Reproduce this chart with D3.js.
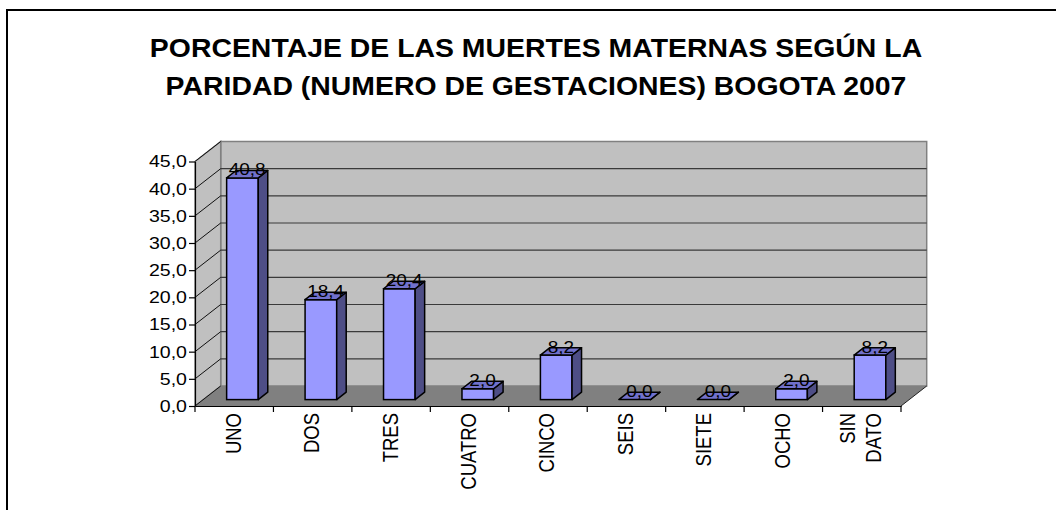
<!DOCTYPE html>
<html>
<head>
<meta charset="utf-8">
<script src="https://cdn.jsdelivr.net/npm/d3@7"></script>
<style>
body{margin:0;background:#fff;}
svg{display:block;font-family:"Liberation Sans",Arial,sans-serif;}
</style>
</head>
<body>
<div id="chart"></div>
<script>
// chart data
var titleLines = ["PORCENTAJE DE LAS MUERTES MATERNAS SEGÚN LA", "PARIDAD (NUMERO DE GESTACIONES) BOGOTA 2007"]
var categories = ["UNO", "DOS", "TRES", "CUATRO", "CINCO", "SEIS", "SIETE", "OCHO", "SIN DATO"]
var values = [40.8, 18.4, 20.4, 2.0, 8.2, 0.0, 0.0, 2.0, 8.2]
var yTicks = [0, 5, 10, 15, 20, 25, 30, 35, 40, 45]

// layout (the original picture is stretched a bit sideways, so text gets a scaleX)
var width = 1056, height = 510
var plotLeft = 195, plotRight = 901
var floorY = 406, topY = 161.5
var depthX = 25.7, depthY = -20   // wall depth offset
var barFront = 0.32, barDepth = 0.37  // bar position inside the depth, as a fraction
var stretch = 1.15

var frontColor = "#9999ff", topColor = "#7171cc", sideColor = "#4e4e86"

var fmt = function(d){ return d3.format(".1f")(d).replace(".", ",") }

var svg = d3.select("#chart").append("svg")
  .attr("width", width)
  .attr("height", height)

// outer frame (runs off the right and bottom of the picture)
svg.append("rect")
  .attr("x", 7).attr("y", 10)
  .attr("width", 1100).attr("height", 600)
  .style("fill", "#fff")
  .style("stroke", "#000")
  .style("stroke-width", 2)

// title
svg.selectAll("text.title")
  .data(titleLines)
  .enter().append("text")
  .attr("class", "title")
  .attr("transform", function(d, i){ return `translate(536 ${56.7 + i*38.3}) scale(1.137 1)` })
  .attr("text-anchor", "middle")
  .style("font-size", "25px")
  .style("font-weight", "bold")
  .text(function(d){ return d })

var x = d3.scaleBand().domain(categories).range([plotLeft, plotRight])
var y = d3.scaleLinear().domain([0, 45]).range([floorY, topY])

var backLeft = plotLeft + depthX, backRight = plotRight + depthX

// floor
svg.append("polygon")
  .attr("points", `${plotLeft},${floorY} ${plotRight},${floorY} ${backRight},${floorY+depthY} ${backLeft},${floorY+depthY}`)
  .style("fill", "#808080")

// back wall
svg.append("rect")
  .attr("x", backLeft)
  .attr("y", y(45) + depthY)
  .attr("width", backRight - backLeft)
  .attr("height", y(0) - y(45))
  .style("fill", "#c0c0c0")
  .style("stroke", "#808080")
  .style("stroke-width", 1.5)

// side wall
svg.append("polygon")
  .attr("points", `${plotLeft},${y(0)} ${plotLeft},${y(45)} ${backLeft},${y(45)+depthY} ${backLeft},${y(0)+depthY}`)
  .style("fill", "#c0c0c0")
  .style("stroke", "#808080")
  .style("stroke-width", 1.5)

// gridlines: back wall and diagonals on the side wall
svg.selectAll("line.grid")
  .data(yTicks.filter(function(t){ return t > 0 && t < 45 }))
  .enter().append("line")
  .attr("class", "grid")
  .attr("x1", backLeft).attr("x2", backRight)
  .attr("y1", function(d){ return y(d) + depthY })
  .attr("y2", function(d){ return y(d) + depthY })
  .style("stroke", "#3a3a3a")
  .style("stroke-width", 1.2)

svg.selectAll("line.diag")
  .data(yTicks)
  .enter().append("line")
  .attr("class", "diag")
  .attr("x1", plotLeft).attr("x2", backLeft)
  .attr("y1", function(d){ return y(d) })
  .attr("y2", function(d){ return y(d) + depthY })
  .style("stroke", "#111")
  .style("stroke-width", 1)

// floor right edge
svg.append("line")
  .attr("x1", plotRight).attr("y1", floorY)
  .attr("x2", backRight).attr("y2", floorY + depthY)
  .style("stroke", "#222")
  .style("stroke-width", 1)

// y axis
var yAxis = svg.append("g")
  .attr("transform", `translate(${plotLeft},0)`)
  .call(d3.axisLeft(y).tickValues(yTicks).tickSize(6).tickSizeOuter(0).tickFormat(fmt))
yAxis.selectAll("text")
  .attr("x", -7)
  .attr("transform", `scale(${stretch} 1)`)
  .style("font-size", "17px")
  .style("font-family", '"Liberation Sans",Arial,sans-serif')
  .style("fill", "#000")
yAxis.selectAll("line, path").style("stroke", "#000").style("stroke-width", 1.2)

// x axis: line plus ticks at the category boundaries
var xAxis = svg.append("g")
  .attr("transform", `translate(0,${floorY})`)
  .call(d3.axisBottom(x).tickSize(0).tickSizeOuter(0).tickFormat(""))
xAxis.select("path").style("stroke", "#000").style("stroke-width", 1.2)

xAxis.selectAll("line.bound")
  .data(d3.range(categories.length + 1))
  .enter().append("line")
  .attr("class", "bound")
  .attr("x1", function(i){ return plotLeft + i*x.step() })
  .attr("x2", function(i){ return plotLeft + i*x.step() })
  .attr("y1", 0).attr("y2", 6)
  .style("stroke", "#000")
  .style("stroke-width", 1.2)

// category labels, rotated
var catLabels = svg.selectAll("text.cat")
  .data(categories)
  .enter().append("text")
  .attr("class", "cat")
  .attr("transform", function(d){ return `translate(${x(d) + x.bandwidth()/2 - 1} 413) scale(${stretch} 1) rotate(-90)` })
  .attr("text-anchor", "end")
  .style("font-size", "18.5px")

catLabels.each(function(d){
  var lines = d.split(" ")
  var first = 0.35 - (lines.length - 1)*0.6
  d3.select(this).selectAll("tspan")
    .data(lines)
    .enter().append("tspan")
    .attr("x", 0)
    .attr("dy", function(l, i){ return i == 0 ? `${first}em` : "1.2em" })
    .text(function(l){ return l })
})

// bars
var bw = x.bandwidth()*0.403
var bdx = depthX*barDepth, bdy = depthY*barDepth
var bars = categories.map(function(c, i){
  var x0 = x(c) + (x.bandwidth() - bw)/2 + depthX*barFront
  var yb = y(0) + depthY*barFront
  var yt = y(values[i]) + depthY*barFront
  return {x0: x0, yb: yb, yt: yt, v: values[i]}
})

var barG = svg.selectAll("g.bar")
  .data(bars)
  .enter().append("g")
  .attr("class", "bar")

barG.append("rect")
  .attr("x", function(d){ return d.x0 })
  .attr("y", function(d){ return d.yt })
  .attr("width", bw)
  .attr("height", function(d){ return d.yb - d.yt })
  .style("fill", frontColor)
  .style("stroke", "#000")
  .style("stroke-width", 1.5)

barG.append("polygon")
  .attr("points", function(d){
    var r = d.x0 + bw
    return `${r},${d.yb} ${r+bdx},${d.yb+bdy} ${r+bdx},${d.yt+bdy} ${r},${d.yt}`
  })
  .style("fill", sideColor)
  .style("stroke", "#000")
  .style("stroke-width", 1.5)
  .style("stroke-linejoin", "round")

barG.append("polygon")
  .attr("points", function(d){
    var r = d.x0 + bw
    return `${d.x0},${d.yt} ${d.x0+bdx},${d.yt+bdy} ${r+bdx},${d.yt+bdy} ${r},${d.yt}`
  })
  .style("fill", topColor)
  .style("stroke", "#000")
  .style("stroke-width", 1.5)
  .style("stroke-linejoin", "round")

// value labels
svg.selectAll("text.val")
  .data(bars)
  .enter().append("text")
  .attr("class", "val")
  .attr("transform", function(d){ return `translate(${d.x0 + bw/2 + bdx/2} ${d.yt - 2.5}) scale(${stretch} 1)` })
  .attr("text-anchor", "middle")
  .style("font-size", "16.5px")
  .text(function(d){ return fmt(d.v) })
</script>
</body>
</html>
